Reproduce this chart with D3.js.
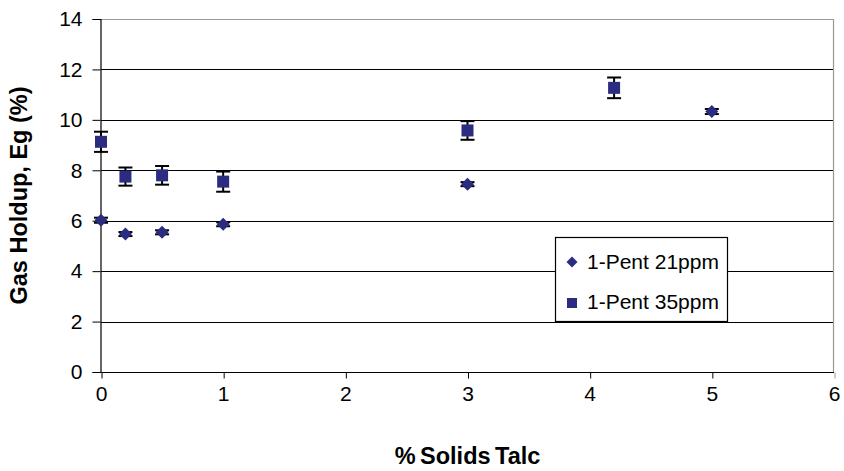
<!DOCTYPE html>
<html>
<head>
<meta charset="utf-8">
<script src="https://cdn.jsdelivr.net/npm/d3@7"></script>
<style>
    body { margin: 0; background: #fff; }
    svg { display: block; font-family: Arial, "Liberation Sans", sans-serif; }
</style>
</head>
<body>
<div class="svg-container"></div>
<script>
// data
const solids = [0, 0.2, 0.5, 1, 3, 5];
const pent21 = [6.02, 5.47, 5.54, 5.86, 7.45, 10.33];
const pent21_err = [0.1, 0.08, 0.08, 0.08, 0.08, 0.1];

const solids35 = [0, 0.2, 0.5, 1, 3, 4.2];
const pent35 = [9.13, 7.75, 7.8, 7.55, 9.58, 11.27];
const pent35_err = [0.4, 0.36, 0.37, 0.4, 0.37, 0.41];

const x_ticks = [0, 1, 2, 3, 4, 5, 6];
const y_ticks = [0, 2, 4, 6, 8, 10, 12, 14];
const series_names = ['1-Pent 21ppm', '1-Pent 35ppm'];

var viewBox_width = 844,
    viewBox_height = 471,
    margin = {top: 19, right: 10, bottom: 99, left: 101},
    width = viewBox_width - margin.left - margin.right,
    height = viewBox_height - margin.top - margin.bottom;

const marker_color = '#2b2b80';
const font = 'Arial, "Liberation Sans", sans-serif';

var svg = d3.select('.svg-container')
    .append('svg')
    .attr('width', viewBox_width)
    .attr('height', viewBox_height);

var xScale = d3.scaleLinear().domain([0, 6]).range([0, width]),
    yScale = d3.scaleLinear().domain([0, 14]).range([height, 0]);

var g = svg.append('g')
    .attr('transform', 'translate(' + margin.left + ',' + margin.top + ')');

// gridlines
g.selectAll('.grid')
    .data(y_ticks.filter(d => d > 0 && d < 14)).enter().append('line')
    .attr('x1', 0).attr('x2', width)
    .attr('y1', d => Math.round(yScale(d)) + 0.5).attr('y2', d => Math.round(yScale(d)) + 0.5)
    .attr('stroke', '#000').attr('stroke-width', 1.2);

// plot area border (top and right)
g.append('path')
    .attr('d', `M0,0.5H${width - 0.5}V${height}`)
    .attr('fill', 'none').attr('stroke', '#999').attr('stroke-width', 1.2);

// axes
var yAxis = g.append('g')
    .attr('transform', 'translate(-0.5,0)')
    .call(d3.axisLeft(yScale).tickValues(y_ticks).tickSize(8).tickPadding(10));
var xAxis = g.append('g')
    .attr('transform', 'translate(0,' + (height + 0.5) + ')')
    .call(d3.axisBottom(xScale).tickValues(x_ticks).tickFormat(d3.format('d'))
        .tickSize(6).tickPadding(8));

[xAxis, yAxis].forEach(function (ax) {
    ax.select('.domain').attr('stroke', '#000').attr('stroke-width', 1.2);
    ax.selectAll('.tick line').attr('stroke', '#000');
    ax.selectAll('text').style('font-size', '21px').attr('fill', '#000')
        .style('font-family', font);
});
xAxis.select('.domain').attr('d', `M0.5,0H${width}`);
xAxis.selectAll('.tick line').attr('transform', 'translate(0.5,0)');
xAxis.selectAll('.tick line').filter((d) => d === 6).attr('stroke', '#999');

// error bars
function errorBars(xs, ys, errs, cap) {
    const rows = xs.map((x, i) => [x, ys[i], errs[i]]);
    const eg = g.append('g').attr('stroke', '#000').attr('stroke-width', 2);
    rows.forEach(function (d) {
        const cx = xScale(d[0]), top = yScale(d[1] + d[2]), bot = yScale(d[1] - d[2]);
        eg.append('line').attr('x1', cx).attr('x2', cx).attr('y1', top).attr('y2', bot);
        eg.append('line').attr('x1', cx - cap).attr('x2', cx + cap).attr('y1', top).attr('y2', top);
        eg.append('line').attr('x1', cx - cap).attr('x2', cx + cap).attr('y1', bot).attr('y2', bot);
    });
}
errorBars(solids, pent21, pent21_err, 7);
errorBars(solids35, pent35, pent35_err, 7);

// markers
const diamond = 'M0,-6.5L6.5,0L0,6.5L-6.5,0Z';
g.selectAll('.m21')
    .data(solids.map((x, i) => [x, pent21[i]])).enter().append('path')
    .attr('d', diamond)
    .attr('transform', d => 'translate(' + xScale(d[0]) + ',' + yScale(d[1]) + ')')
    .attr('fill', marker_color);
g.selectAll('.m35')
    .data(solids35.map((x, i) => [x, pent35[i]])).enter().append('rect')
    .attr('x', d => xScale(d[0]) - 6).attr('y', d => yScale(d[1]) - 6)
    .attr('width', 12).attr('height', 12)
    .attr('fill', marker_color);

// legend
var lg = svg.append('g').attr('transform', 'translate(555,237)');
lg.append('rect')
    .attr('x', 0.5).attr('y', 0.5).attr('width', 172).attr('height', 84)
    .attr('fill', '#fff').attr('stroke', '#000').attr('stroke-width', 1.2);
lg.append('path').attr('d', 'M0,-5.5L5.5,0L0,5.5L-5.5,0Z')
    .attr('transform', 'translate(17,25)').attr('fill', marker_color);
lg.append('rect').attr('x', 12).attr('y', 61).attr('width', 10).attr('height', 10)
    .attr('fill', marker_color);
lg.selectAll('.ltext')
    .data(series_names).enter().append('text')
    .attr('x', 32).attr('y', (d, i) => 32 + i * 40)
    .style('font-size', '21px')
    .text(d => d);

// axis titles
svg.append('text')
    .attr('x', margin.left + width / 2).attr('y', 464)
    .attr('text-anchor', 'middle')
    .style('font-size', '23.5px').style('font-weight', 'bold')
    .style('word-spacing', '-2px')
    .text('% Solids Talc');
svg.append('text')
    .attr('transform', 'translate(27,' + (margin.top + height / 2) + ') rotate(-90)')
    .attr('text-anchor', 'middle')
    .style('font-size', '23.5px').style('font-weight', 'bold')
    .text('Gas Holdup, Eg (%)');
</script>
</body>
</html>
